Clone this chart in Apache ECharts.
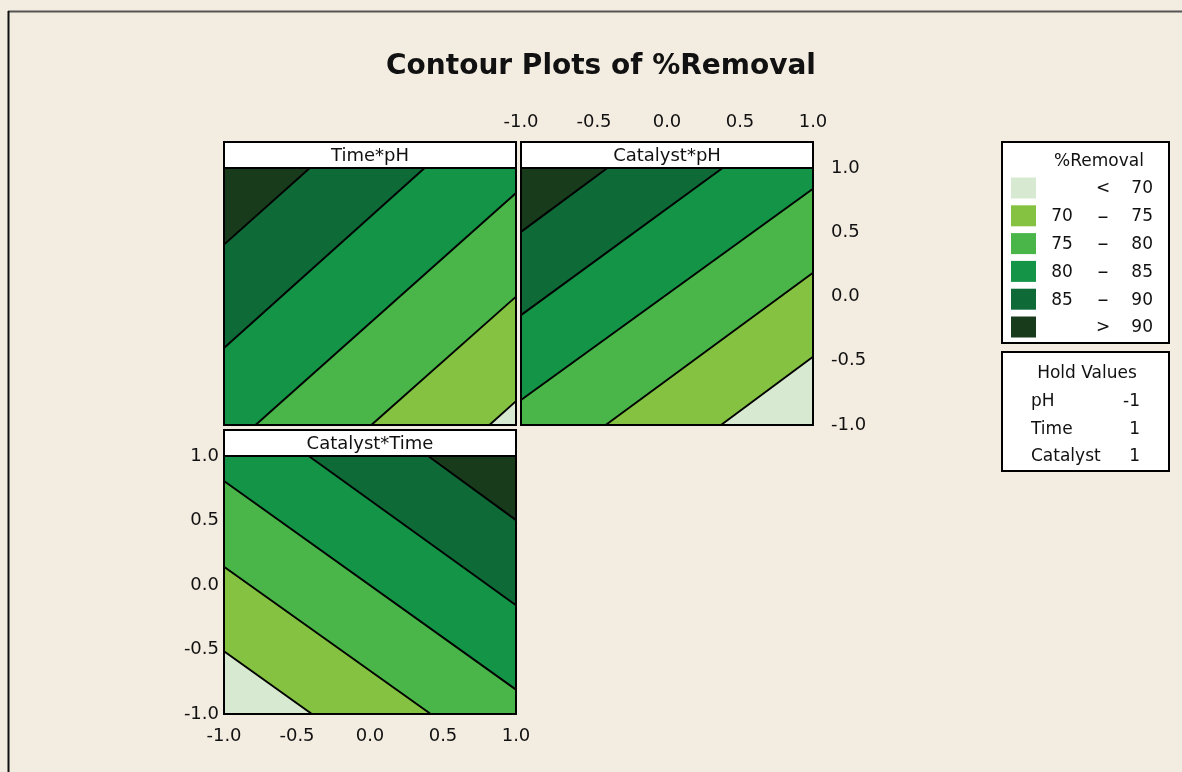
<!DOCTYPE html>
<html>
<head>
<meta charset="utf-8">
<title>Contour Plots of %Removal</title>
<script src="https://cdn.jsdelivr.net/npm/echarts@6/dist/echarts.min.js"></script>
<style>
  html, body { margin: 0; padding: 0; background: #f3ece1; }
  #chart { width: 1182px; height: 772px; }
</style>
</head>
<body>
<div id="chart"></div>
<script>
// Contour levels of %Removal and the band labels shown in the key
const levels = [70, 75, 80, 85, 90];
const bandLabels = [
  ['', '<', '70'],
  ['70', '–', '75'],
  ['75', '–', '80'],
  ['80', '–', '85'],
  ['85', '–', '90'],
  ['', '>', '90']
];

// Axis ticks (coded factor levels)
const tickValues = [-1, -0.5, 0, 0.5, 1];
const tickLabels = ['-1.0', '-0.5', '0.0', '0.5', '1.0'];

// Contour lines, one per level (70..90), as [start, end] in coded units.
// Walking from start to end, higher %Removal lies on the left.
const timePhContours = [
  [[0.818, -1], [1, -0.814]],
  [[0.009, -1], [1, -0.001]],
  [[-0.784, -1], [1, 0.806]],
  [[-1, -0.401], [0.374, 1]],
  [[-1, 0.404], [-0.412, 1]]
];
const catalystPhContours = [
  [[0.370, -1], [1, -0.469]],
  [[-0.420, -1], [1, 0.184]],
  [[-1, -0.806], [1, 0.839]],
  [[-1, -0.145], [0.381, 1]],
  [[-1, 0.503], [-0.408, 1]]
];
const catalystTimeContours = [
  [[-1, -0.514], [-0.398, -1]],
  [[-1, 0.141], [0.416, -1]],
  [[-1, 0.806], [1, -0.811]],
  [[-0.420, 1], [1, -0.157]],
  [[0.398, 1], [1, 0.503]]
];

const panelTitles = ['Time*pH', 'Catalyst*pH', 'Catalyst*Time'];

// Hold values for the factor not shown in each panel
const holdFactors = ['pH', 'Time', 'Catalyst'];
const holdValues = ['-1', '1', '1'];

// ---- styling ----
const bandColors = ['#d8e9d1', '#86c241', '#4ab649', '#149447', '#0e6b38', '#183b1b'];
const FONT = '"DejaVu Sans", Verdana, sans-serif';
const INK = '#111111';

const square = [[-1, -1], [1, -1], [1, 1], [-1, 1]];

// Keep the part of a polygon lying to the left of the directed line a->b
function clipLeft(poly, a, b) {
  const s = p => (b[0] - a[0]) * (p[1] - a[1]) - (b[1] - a[1]) * (p[0] - a[0]);
  const out = [];
  for (let i = 0; i < poly.length; i++) {
    const p = poly[i], q = poly[(i + 1) % poly.length];
    const sp = s(p), sq = s(q);
    if (sp >= 0) out.push(p);
    if ((sp >= 0) !== (sq >= 0)) {
      const t = sp / (sp - sq);
      out.push([p[0] + t * (q[0] - p[0]), p[1] + t * (q[1] - p[1])]);
    }
  }
  return out;
}

function contourData(lines) {
  return lines.map((ln, k) => [ln[0][0], ln[0][1], ln[1][0], ln[1][1], k]);
}

function renderBand(params, api) {
  const a = [api.value(0), api.value(1)];
  const b = [api.value(2), api.value(3)];
  const k = api.value(4);
  const poly = clipLeft(square, a, b).map(p => api.coord(p));
  return {
    type: 'group',
    children: [
      { type: 'polygon', shape: { points: poly }, style: { fill: bandColors[k + 1], stroke: null } },
      { type: 'polyline', shape: { points: [api.coord(a), api.coord(b)] },
        style: { stroke: '#000', lineWidth: 1.9, fill: null } }
    ]
  };
}

function renderFrame(params, api) {
  const p0 = api.coord([-1, 1]);
  const p1 = api.coord([1, -1]);
  return {
    type: 'rect',
    shape: { x: p0[0], y: p0[1], width: p1[0] - p0[0], height: p1[1] - p0[1] },
    style: { fill: null, stroke: '#000', lineWidth: 2 }
  };
}

const fmt = v => {
  const i = tickValues.findIndex(t => Math.abs(t - v) < 1e-9);
  return i >= 0 ? tickLabels[i] : '';
};

const hiddenAxis = (gridIndex) => ({
  type: 'value', gridIndex, min: -1, max: 1, interval: 0.5, show: false
});

const labelStyle = { fontFamily: FONT, fontSize: 18, color: INK, formatter: fmt };

const panels = [
  { left: 224, top: 168, width: 292, height: 257 },
  { left: 521, top: 168, width: 292, height: 257 },
  { left: 224, top: 456, width: 292, height: 258 }
];

const grids = panels.map(p => ({
  left: p.left, top: p.top, width: p.width, height: p.height,
  show: true, backgroundColor: bandColors[0], borderWidth: 0
}));

const xAxes = [
  hiddenAxis(0),
  {
    type: 'value', gridIndex: 1, min: -1, max: 1, interval: 0.5, position: 'top', offset: 26,
    axisLine: { show: false }, splitLine: { show: false },
    axisTick: { show: true, inside: false, length: 10, lineStyle: { color: '#000', width: 1.5 } },
    axisLabel: Object.assign({ margin: 11 }, labelStyle)
  },
  {
    type: 'value', gridIndex: 2, min: -1, max: 1, interval: 0.5, position: 'bottom',
    axisLine: { show: false }, splitLine: { show: false },
    axisTick: { show: true, inside: false, length: 8, lineStyle: { color: '#000', width: 1.5 } },
    axisLabel: Object.assign({ margin: 13 }, labelStyle)
  }
];

const yAxes = [
  hiddenAxis(0),
  {
    type: 'value', gridIndex: 1, min: -1, max: 1, interval: 0.5, position: 'right',
    axisLine: { show: false }, splitLine: { show: false },
    axisTick: { show: true, inside: false, length: 11, lineStyle: { color: '#000', width: 1.5 } },
    axisLabel: Object.assign({ margin: 18 }, labelStyle)
  },
  {
    type: 'value', gridIndex: 2, min: -1, max: 1, interval: 0.5, position: 'left',
    axisLine: { show: false }, splitLine: { show: false },
    axisTick: { show: true, inside: false, length: 8, lineStyle: { color: '#000', width: 1.5 } },
    axisLabel: Object.assign({ margin: 5 }, labelStyle)
  }
];

const contourSets = [timePhContours, catalystPhContours, catalystTimeContours];
const series = [];
contourSets.forEach((set, i) => {
  series.push({
    type: 'custom', xAxisIndex: i, yAxisIndex: i, clip: false, z: 2,
    renderItem: renderBand, data: contourData(set), silent: true
  });
  series.push({
    type: 'custom', xAxisIndex: i, yAxisIndex: i, clip: false, z: 5,
    renderItem: renderFrame, data: [[0, 0]], silent: true
  });
});

// ---- panel headers, key and hold-value box ----
const graphics = [];

// outer frame lines
graphics.push({ type: 'line', shape: { x1: 8, y1: 11.5, x2: 1182, y2: 11.5 },
  style: { stroke: '#555', lineWidth: 2 }, z: 10 });
graphics.push({ type: 'line', shape: { x1: 8.5, y1: 11, x2: 8.5, y2: 772 },
  style: { stroke: '#111', lineWidth: 2 }, z: 10 });

// title
graphics.push({ type: 'text', x: 601, y: 67,
  style: { text: 'Contour Plots of %Removal', font: 'bold 28px ' + FONT, fill: INK,
    textAlign: 'center', textVerticalAlign: 'middle' }, z: 10 });

const headers = [
  { x: 224, y: 142, w: 292, h: 26 },
  { x: 521, y: 142, w: 292, h: 26 },
  { x: 224, y: 430, w: 292, h: 26 }
];
headers.forEach((h, i) => {
  graphics.push({ type: 'rect', shape: { x: h.x, y: h.y, width: h.w, height: h.h },
    style: { fill: '#ffffff', stroke: '#000', lineWidth: 2 }, z: 10 });
  graphics.push({ type: 'text', x: h.x + h.w / 2, y: h.y + h.h / 2 + 1,
    style: { text: panelTitles[i], font: '18px ' + FONT, fill: INK,
      textAlign: 'center', textVerticalAlign: 'middle' }, z: 11 });
});

// key box
graphics.push({ type: 'rect', shape: { x: 1002, y: 142, width: 167, height: 201 },
  style: { fill: '#ffffff', stroke: '#000', lineWidth: 2 }, z: 10 });
graphics.push({ type: 'text', x: 1099, y: 162,
  style: { text: '%Removal', font: '17px ' + FONT, fill: INK,
    textAlign: 'center', textVerticalAlign: 'middle' }, z: 11 });
bandLabels.forEach((lab, i) => {
  const cy = 188 + i * 27.8;
  graphics.push({ type: 'rect', shape: { x: 1011, y: cy - 10.5, width: 25, height: 21 },
    style: { fill: bandColors[i], stroke: null }, z: 11 });
  const parts = [
    { t: lab[0], x: 1062, align: 'center', size: 17 },
    { t: lab[1], x: 1103, align: 'center', size: lab[1] === '–' ? 22 : 17 },
    { t: lab[2], x: 1153, align: 'right', size: 17 }
  ];
  parts.forEach(p => {
    if (!p.t) return;
    graphics.push({ type: 'text', x: p.x, y: cy + 1,
      style: { text: p.t, font: p.size + 'px ' + FONT, fill: INK,
        textAlign: p.align, textVerticalAlign: 'middle' }, z: 11 });
  });
});

// hold values box
graphics.push({ type: 'rect', shape: { x: 1002, y: 352, width: 167, height: 119 },
  style: { fill: '#ffffff', stroke: '#000', lineWidth: 2 }, z: 10 });
graphics.push({ type: 'text', x: 1087, y: 374,
  style: { text: 'Hold Values', font: '17px ' + FONT, fill: INK,
    textAlign: 'center', textVerticalAlign: 'middle' }, z: 11 });
holdFactors.forEach((f, i) => {
  const cy = 402 + i * 27.5;
  graphics.push({ type: 'text', x: 1031, y: cy,
    style: { text: f, font: '17px ' + FONT, fill: INK,
      textAlign: 'left', textVerticalAlign: 'middle' }, z: 11 });
  graphics.push({ type: 'text', x: 1140, y: cy,
    style: { text: holdValues[i], font: '17px ' + FONT, fill: INK,
      textAlign: 'right', textVerticalAlign: 'middle' }, z: 11 });
});

const chart = echarts.init(document.getElementById('chart'), null, { renderer: 'canvas' });
chart.setOption({
  backgroundColor: '#f3ece1',
  animation: false,
  grid: grids,
  xAxis: xAxes,
  yAxis: yAxes,
  series: series,
  graphic: graphics
});
</script>
</body>
</html>
